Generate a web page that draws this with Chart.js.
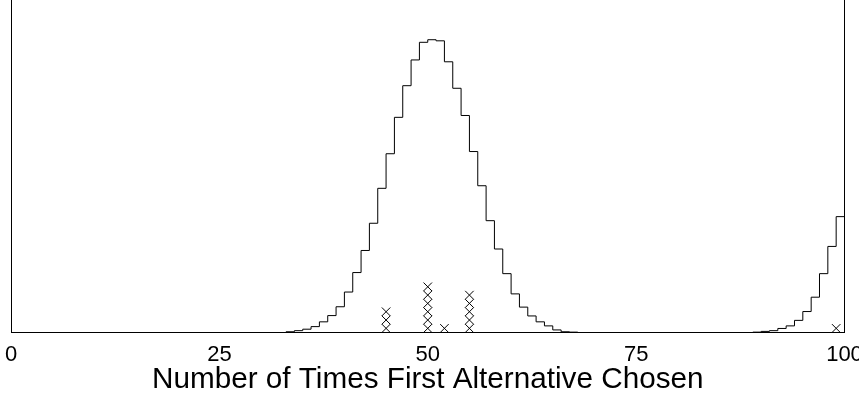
<!DOCTYPE html>
<html>
<head>
<meta charset="utf-8">
<title>Number of Times First Alternative Chosen</title>
<script src="https://cdn.jsdelivr.net/npm/chart.js@4.4.1/dist/chart.umd.min.js"></script>
<style>
  html, body { margin: 0; padding: 0; background: #fff; }
  .graphic { width: 859px; height: 395px; position: relative; }
</style>
</head>
<body>
<div class="graphic">
  <canvas class="graphic__choices"></canvas>
</div>
<script>
// bin k covers [k, k+1), heights in percent
const binStart = Array.from({ length: 100 }, (_, k) => k)
const binHeight = [
  0, 0, 0, 0, 0, 0, 0, 0, 0, 0,
  0, 0, 0, 0, 0, 0, 0, 0, 0, 0,
  0, 0, 0, 0, 0, 0, 0, 0, 0, 0,
  0, 0, 0, 0.02, 0.05, 0.09, 0.16, 0.29, 0.46, 0.70,
  1.10, 1.63, 2.23, 2.97, 3.92, 4.86, 5.85, 6.71, 7.41, 7.89,
  7.96, 7.93, 7.36, 6.64, 5.90, 4.92, 3.99, 3.04, 2.27, 1.60,
  1.05, 0.69, 0.45, 0.29, 0.18, 0.07, 0.02, 0.01, 0, 0,
  0, 0, 0, 0, 0, 0, 0, 0, 0, 0,
  0, 0, 0, 0, 0, 0, 0, 0, 0, 0.01,
  0.03, 0.05, 0.11, 0.18, 0.33, 0.57, 0.96, 1.60, 2.34, 3.15
]

// observed choices, one cross each
const observed = [45, 45, 45, 50, 50, 50, 50, 50, 50, 52, 55, 55, 55, 55, 55, 99]

const xTicks = [0, 25, 50, 75, 100]
const xTitle = 'Number of Times First Alternative Chosen'

const fontFamily = '"Liberation Sans", Arial, sans-serif'

const stepPoints = binStart.map((x, i) => ({ x: x, y: binHeight[i] }))
stepPoints.push({ x: 100, y: 0 })

// stack repeated values on top of each other
const seen = {}
const crossPoints = observed.map(v => {
  seen[v] = (seen[v] || 0) + 1
  return { x: v, y: seen[v] - 0.5 }
})

const noPadding = scale => {
  scale.paddingTop = 0
  scale.paddingBottom = 0
  scale.paddingLeft = 0
  scale.paddingRight = 0
}

const sideAxis = {
  display: true,
  min: 0,
  max: 9.04,
  afterFit: scale => {
    noPadding(scale)
    scale.width = 0
  },
  grid: { display: false, drawTicks: false },
  border: { display: true, color: '#000', width: 1 },
  ticks: { display: false }
}

const ctxChoices = document.querySelector('.graphic__choices')

const myChartChoices = new Chart(ctxChoices, {
  type: 'line',

  data: {
    datasets: [{
      label: 'Distribution',
      data: stepPoints,
      stepped: 'before',
      borderColor: '#000',
      borderWidth: 1,
      pointRadius: 0,
      fill: false,
      yAxisID: 'y'
    },

    {
      type: 'scatter',
      label: 'Observed',
      data: crossPoints,
      pointStyle: 'crossRot',
      pointRadius: 6,
      borderColor: '#000',
      backgroundColor: '#000',
      borderWidth: 1,
      yAxisID: 'yDots'
    }]
  },

  options: {
    responsive: true,
    maintainAspectRatio: false,
    animation: false,

    layout: {
      autoPadding: false,
      padding: { left: 11, right: 14.5, top: 0, bottom: 0 }
    },

    plugins: {
      legend: { display: false },
      tooltip: { enabled: false }
    },

    scales: {
      x: {
        type: 'linear',
        min: 0,
        max: 100,
        afterBuildTicks: scale => {
          scale.ticks = xTicks.map(v => ({ value: v }))
        },
        afterFit: scale => {
          noPadding(scale)
          scale.height = 62.5
        },
        grid: { display: false, drawTicks: false },
        border: { display: true, color: '#000', width: 1 },
        ticks: {
          color: '#000',
          padding: 11,
          maxRotation: 0,
          autoSkip: false,
          font: { family: fontFamily, size: 22, lineHeight: 1 }
        },
        title: {
          display: true,
          text: xTitle,
          color: '#000',
          padding: { top: 0, bottom: 0 },
          font: { family: fontFamily, size: 29.7, lineHeight: 1 }
        }
      },

      y: Object.assign({ position: 'left' }, sideAxis),

      yRight: Object.assign({ position: 'right' }, sideAxis),

      yDots: {
        display: false,
        min: 0,
        max: 40
      }
    }
  }
})
</script>
</body>
</html>
